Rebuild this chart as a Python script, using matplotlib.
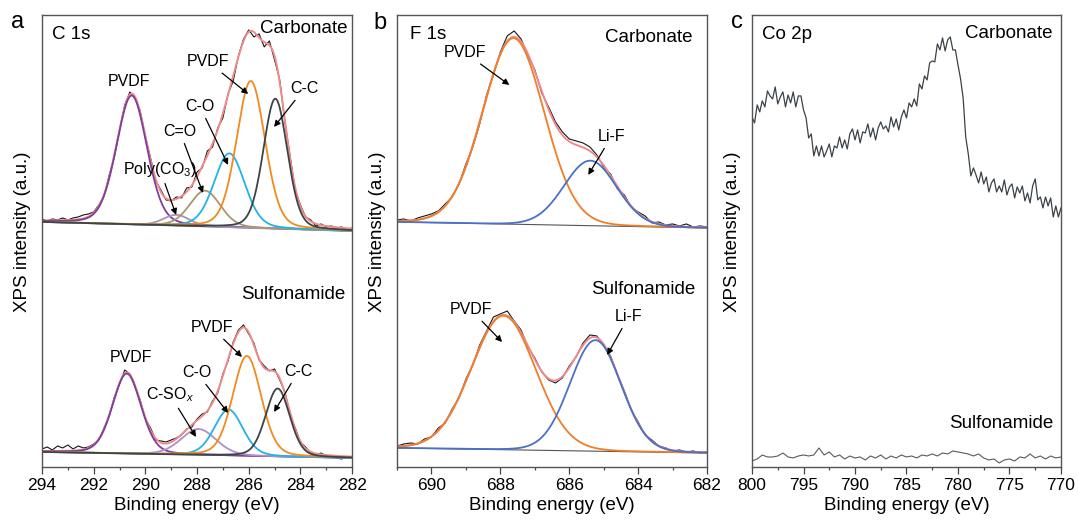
import numpy as np
import matplotlib
matplotlib.use("Agg")
import matplotlib.pyplot as plt
from matplotlib import ticker

plt.rcParams['font.family'] = ['Liberation Sans', 'DejaVu Sans']
plt.rcParams['mathtext.fontset'] = 'custom'
plt.rcParams['mathtext.rm'] = 'Liberation Sans'
plt.rcParams['mathtext.it'] = 'Liberation Sans:italic'

# ---- panel a, C 1s fitted peaks (centre eV, FWHM eV, height over background)
c1s_carb_center = [290.53, 288.80, 287.69, 286.75, 285.92, 284.97]
c1s_carb_fwhm = [1.40, 1.20, 1.40, 1.40, 1.30, 1.10]
c1s_carb_height = [129, 11, 36, 74, 147, 130]
c1s_carb_bg = [245, 236]          # background at 294 eV and 282 eV
c1s_carb_colors = ['#7d3f9e', '#a595b5', '#a8966f', '#22b2e6', '#f28a1e', '#3c4446']

c1s_sulf_center = [290.72, 287.94, 286.78, 286.07, 284.88]
c1s_sulf_fwhm = [1.30, 1.60, 1.30, 1.30, 1.10]
c1s_sulf_height = [80, 26, 46, 100, 68]
c1s_sulf_bg = [15, 9]
c1s_sulf_colors = ['#7d3f9e', '#b38dc9', '#22b2e6', '#f28a1e', '#3c4446']

# measured C 1s data, 294 -> 282 eV in 0.2 eV steps
c1s_carb_raw = [248, 246, 248, 247, 249, 247, 249, 250, 252, 253, 255, 262, 271, 292,
                310, 337, 362, 375, 369, 356, 330, 309, 286, 277, 267, 266, 270, 269,
                279, 280, 295, 299, 316, 320, 339, 349, 373, 386, 411, 428, 437, 430,
                433, 420, 426, 407, 387, 345, 311, 277, 262, 250, 247, 241, 243, 240,
                241, 239, 240, 237, 239]
c1s_sulf_raw = [18, 20, 17, 21, 19, 22, 18, 21, 19, 20, 23, 27, 39, 51, 70, 83, 97, 93,
                80, 67, 48, 39, 27, 26, 25, 27, 29, 32, 38, 40, 48, 53, 55, 66, 74, 93,
                106, 125, 137, 142, 133, 124, 107, 101, 96, 98, 87, 75, 53, 39, 25, 20,
                14, 12, 14, 11, 10, 9, 8, 10, 9]

# ---- panel b, F 1s fitted peaks
f1s_carb_center = [687.62, 685.39]
f1s_carb_fwhm = [2.10, 1.80]
f1s_carb_height = [186, 65]
f1s_carb_bg = [245, 239]
f1s_sulf_center = [687.91, 685.24]
f1s_sulf_fwhm = [2.20, 1.75]
f1s_sulf_height = [134, 111]
f1s_sulf_bg = [19, 14]
f1s_colors = ['#f07d28', '#4a70c8']

# measured F 1s data, 691 -> 682 eV in 0.2 eV steps
f1s_carb_raw = [247, 248, 246, 249, 251, 253, 256, 263, 270, 283, 303, 320, 343, 372,
                392, 415, 431, 436, 428, 412, 397, 374, 360, 345, 335, 328, 326, 324,
                320, 312, 300, 293, 278, 272, 260, 255, 251, 244, 245, 242, 243, 241,
                243, 240, 241, 240]
f1s_sulf_raw = [21, 23, 24, 23, 28, 30, 39, 44, 58, 69, 88, 102, 122, 136, 150, 153,
                156, 146, 137, 120, 109, 95, 87, 84, 89, 101, 110, 124, 132, 131, 122,
                111, 92, 76, 57, 45, 32, 27, 21, 19, 16, 17, 15, 16, 14, 15]

# ---- panel c, Co 2p raw spectra (800 -> 770 eV)
co2p_carb = [350, 344, 362, 355, 366, 360, 376, 371, 368, 380, 363, 370, 375, 360,
             372, 364, 375, 360, 371, 371, 357, 349, 329, 333, 311, 321, 311, 321,
             310, 316, 323, 310, 321, 319, 330, 319, 327, 318, 333, 338, 327, 337,
             324, 335, 334, 343, 330, 339, 327, 339, 345, 338, 341, 335, 350, 340,
             348, 337, 350, 357, 349, 364, 360, 368, 361, 383, 378, 391, 387, 404,
             406, 405, 423, 417, 429, 416, 427, 430, 417, 417, 402, 388, 369, 330,
             313, 291, 299, 292, 284, 295, 283, 290, 275, 284, 288, 275, 281, 275,
             287, 272, 280, 283, 269, 280, 274, 281, 266, 274, 264, 281, 288, 267,
             270, 259, 270, 261, 269, 250, 261, 250, 259]
co2p_sulf = [6, 8, 12, 10, 10, 11, 14, 10, 9, 11, 12, 11, 12, 19, 12, 15, 10, 12, 8,
             11, 9, 10, 7, 11, 9, 12, 8, 11, 9, 12, 10, 11, 9, 12, 11, 13, 11, 14,
             13, 16, 15, 14, 13, 11, 13, 9, 7, 8, 4, 7, 8, 6, 10, 9, 13, 9, 11, 8,
             11, 9, 10]


def pvoigt(e, center, fwhm, height, eta=0.2):
    u = ((e - center) / fwhm) ** 2
    return height * ((1 - eta) * np.exp(-4 * np.log(2) * u) + eta / (1 + 4 * u))


def draw_fit(ax, e, centers, fwhms, heights, bg, colors, eta, raw):
    base = bg[0] + (bg[1] - bg[0]) * (e - e[0]) / (e[-1] - e[0])
    env = base.copy()
    comps = []
    for c, w, h in zip(centers, fwhms, heights):
        p = pvoigt(e, c, w, h, eta)
        env += p
        comps.append(base + p)
    ax.plot(e, base, color='#555555', lw=0.8)
    raw_e = np.linspace(e[0], e[-1], len(raw))
    ax.plot(raw_e, raw, color='#151515', lw=0.8)
    ax.plot(e, env, color='#f08a8a', lw=1.4)
    for comp, col in zip(comps, colors):
        ax.plot(e, comp, color=col, lw=1.3)


def style_axes(ax, xlim, major, minor):
    ax.set_xlim(xlim)
    ax.set_ylim(0, 452)
    ax.set_yticks([])
    ax.xaxis.set_major_locator(ticker.MultipleLocator(major))
    ax.xaxis.set_minor_locator(ticker.MultipleLocator(minor))
    ax.tick_params(axis='x', which='major', direction='out', length=5, width=0.9,
                   labelsize=12.5, pad=3, color='#444444')
    ax.tick_params(axis='x', which='minor', direction='out', length=2.5, width=0.9,
                   color='#444444')
    for s in ax.spines.values():
        s.set_color('#555555')
        s.set_linewidth(1.0)
    ax.set_xlabel('Binding energy (eV)', fontsize=13.5, labelpad=3)
    ax.set_ylabel('XPS intensity (a.u.)', fontsize=13.5)
    ax.yaxis.set_label_coords(-0.035, 0.52)


def note(ax, text, xy, xytext):
    ax.annotate(text, xy=xy, xytext=xytext, ha='center', va='center', fontsize=11.5,
                arrowprops=dict(arrowstyle='-|>', color='black', lw=0.9,
                                mutation_scale=9, shrinkA=1, shrinkB=0))


def corner(ax, x, y, text, ha='left'):
    ax.text(x, y, text, transform=ax.transAxes, fontsize=13.5, va='center', ha=ha)


def main():
    fig = plt.figure(figsize=(10.78, 5.22), dpi=100)
    ax_a = fig.add_axes([0.039, 0.1054, 0.2876, 0.866])
    ax_b = fig.add_axes([0.3683, 0.1054, 0.2876, 0.866])
    ax_c = fig.add_axes([0.6976, 0.1054, 0.2866, 0.866])

    # panel a
    e_a = np.linspace(294, 282, 600)
    draw_fit(ax_a, e_a, c1s_carb_center, c1s_carb_fwhm, c1s_carb_height,
             c1s_carb_bg, c1s_carb_colors, 0.2, c1s_carb_raw)
    draw_fit(ax_a, e_a, c1s_sulf_center, c1s_sulf_fwhm, c1s_sulf_height,
             c1s_sulf_bg, c1s_sulf_colors, 0.2, c1s_sulf_raw)
    style_axes(ax_a, (294, 282), 2, 1)
    corner(ax_a, 0.032, 0.956, 'C 1s')
    corner(ax_a, 0.984, 0.971, 'Carbonate', 'right')
    corner(ax_a, 0.977, 0.381, 'Sulfonamide', 'right')
    ax_a.text(290.63, 385, 'PVDF', fontsize=11.5, ha='center', va='center')
    note(ax_a, 'PVDF', (286.02, 373), (287.57, 405))
    note(ax_a, 'C-C', (285.02, 340), (283.86, 378))
    note(ax_a, 'C-O', (286.80, 302), (287.88, 360))
    note(ax_a, 'C=O', (287.77, 274), (288.66, 335))
    note(ax_a, 'Poly(CO$_3$)', (288.81, 252), (289.43, 297))
    ax_a.text(290.55, 109, 'PVDF', fontsize=11.5, ha='center', va='center')
    note(ax_a, 'PVDF', (286.26, 110), (287.42, 139))
    note(ax_a, 'C-O', (286.80, 54), (288.0, 94))
    note(ax_a, 'C-C', (285.02, 55), (284.09, 95))
    note(ax_a, 'C-SO$_x$', (288.04, 30), (289.04, 72))

    # panel b
    e_b = np.linspace(691, 682, 600)
    draw_fit(ax_b, e_b, f1s_carb_center, f1s_carb_fwhm, f1s_carb_height,
             f1s_carb_bg, f1s_colors, 0.05, f1s_carb_raw)
    draw_fit(ax_b, e_b, f1s_sulf_center, f1s_sulf_fwhm, f1s_sulf_height,
             f1s_sulf_bg, f1s_colors, 0.05, f1s_sulf_raw)
    style_axes(ax_b, (691, 682), 2, 1)
    corner(ax_b, 0.042, 0.956, 'F 1s')
    corner(ax_b, 0.952, 0.951, 'Carbonate', 'right')
    corner(ax_b, 0.961, 0.392, 'Sulfonamide', 'right')
    note(ax_b, 'PVDF', (687.74, 382), (689.02, 414))
    note(ax_b, 'Li-F', (685.45, 292), (684.78, 330))
    note(ax_b, 'PVDF', (687.95, 125), (688.85, 157))
    note(ax_b, 'Li-F', (684.9, 112), (684.28, 150))

    # panel c
    e_c1 = np.linspace(800, 770, len(co2p_carb))
    e_c2 = np.linspace(800, 770, len(co2p_sulf))
    ax_c.plot(e_c1, co2p_carb, color='#3a4248', lw=0.9)
    ax_c.plot(e_c2, co2p_sulf, color='#555b60', lw=0.8)
    style_axes(ax_c, (800, 770), 5, 2.5)
    corner(ax_c, 0.031, 0.956, 'Co 2p')
    corner(ax_c, 0.974, 0.96, 'Carbonate', 'right')
    corner(ax_c, 0.974, 0.097, 'Sulfonamide', 'right')

    fig.text(18 / 1078, 1 - 22 / 522, 'a', fontsize=17, ha='center', va='center')
    fig.text(380 / 1078, 1 - 23 / 522, 'b', fontsize=17, ha='center', va='center')
    fig.text(737 / 1078, 1 - 22 / 522, 'c', fontsize=17, ha='center', va='center')

    fig.savefig('out.png', dpi=100)


if __name__ == "__main__":
    main()
